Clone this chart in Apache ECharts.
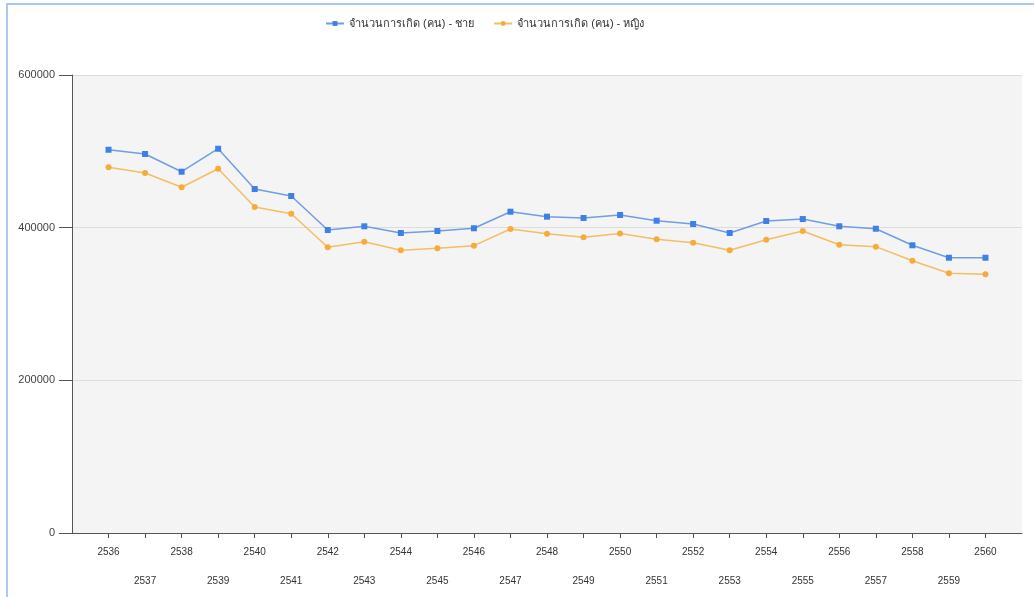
<!DOCTYPE html>
<html>
<head>
<meta charset="utf-8">
<script src="https://cdn.jsdelivr.net/npm/echarts@6/dist/echarts.min.js"></script>
<style>
  html, body { margin: 0; padding: 0; background: #ffffff; }
  #chart { width: 1034px; height: 597px; }
</style>
</head>
<body>
<div id="chart"></div>
<script>
// Buddhist-era years shown on the horizontal axis
const years = [2536, 2537, 2538, 2539, 2540, 2541, 2542, 2543, 2544, 2545, 2546, 2547, 2548,
               2549, 2550, 2551, 2552, 2553, 2554, 2555, 2556, 2557, 2558, 2559, 2560];

// Registered births per year
const maleBirths = [502100, 496500, 473300, 503400, 450600, 441500, 396900, 401800, 393000,
                    395600, 399200, 420900, 414400, 412700, 416600, 409100, 404800, 393000,
                    408700, 411300, 401800, 398600, 376900, 360600, 360600];
const femaleBirths = [479100, 471600, 452900, 477200, 427100, 418300, 374300, 381600, 370300,
                      373000, 376400, 398200, 392100, 387400, 392300, 384700, 380300, 370300,
                      384200, 395600, 377700, 375100, 356700, 340200, 338900];

const seriesNames = ['จำนวนการเกิด (คน) - ชาย', 'จำนวนการเกิด (คน) - หญิง'];
const yTicks = { min: 0, max: 600000, interval: 200000 };

const pair = (vals) => years.map((y, i) => [y, vals[i]]);

const labelFont = 'Tahoma, "Liberation Sans", "Noto Sans", sans-serif';

const chart = echarts.init(document.getElementById('chart'), null, { renderer: 'canvas' });
chart.setOption({
  animation: false,
  backgroundColor: '#ffffff',
  graphic: [
    { type: 'line', shape: { x1: 7, y1: 4, x2: 7, y2: 597 }, style: { stroke: '#a9c9ee', lineWidth: 2 } },
    { type: 'line', shape: { x1: 6, y1: 4, x2: 1034, y2: 4 }, style: { stroke: '#a9c9ee', lineWidth: 2 } }
  ],
  legend: {
    top: 13,
    left: 320,
    itemWidth: 18,
    itemHeight: 6,
    itemGap: 19,
    textStyle: { fontSize: 11, color: '#333', fontFamily: labelFont },
    data: seriesNames
  },
  grid: {
    left: 72, right: 12, top: 75, bottom: 64,
    show: true, backgroundColor: '#f4f4f4', borderWidth: 0
  },
  xAxis: {
    type: 'value',
    min: years[0] - 1,
    max: years[years.length - 1] + 1,
    interval: 1,
    axisLine: { show: true, lineStyle: { color: '#555', width: 1 } },
    axisTick: { show: true, length: 5, lineStyle: { color: '#555' } },
    splitLine: { show: false },
    axisLabel: {
      margin: 14,
      fontSize: 10,
      color: '#333',
      fontFamily: labelFont,
      showMinLabel: false,
      showMaxLabel: false,
      formatter: (v) => {
        if (v < years[0] || v > years[years.length - 1]) return '';
        return v % 2 === 0 ? String(v) : '{odd|' + v + '}';
      },
      rich: { odd: { padding: [29, 0, 0, 0], fontSize: 10, color: '#333', fontFamily: labelFont } }
    }
  },
  yAxis: {
    type: 'value',
    min: yTicks.min,
    max: yTicks.max,
    interval: yTicks.interval,
    axisLine: { show: true, lineStyle: { color: '#555', width: 1 } },
    axisTick: { show: true, length: 13, lineStyle: { color: '#555' } },
    splitLine: { show: true, lineStyle: { color: '#dcdcdc', width: 1 } },
    axisLabel: {
      margin: 17, fontSize: 11, color: '#444', fontFamily: labelFont,
      formatter: (v) => String(v)
    }
  },
  series: [
    {
      name: seriesNames[0],
      type: 'line',
      data: pair(maleBirths),
      symbol: 'rect',
      symbolSize: 6,
      itemStyle: { color: '#3f7fe6' },
      lineStyle: { color: '#6f9de6', width: 1.5 }
    },
    {
      name: seriesNames[1],
      type: 'line',
      data: pair(femaleBirths),
      symbol: 'circle',
      symbolSize: 6,
      itemStyle: { color: '#f5ac3c' },
      lineStyle: { color: '#f4bd66', width: 1.5 }
    }
  ]
});
</script>
</body>
</html>
